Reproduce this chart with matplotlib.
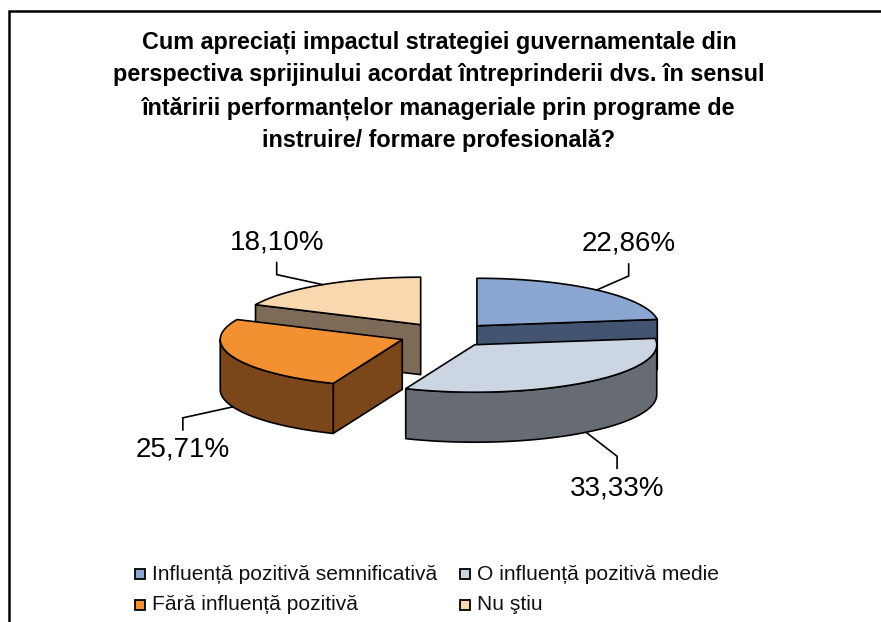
import numpy as np
import matplotlib
matplotlib.use("Agg")
import matplotlib.pyplot as plt
from matplotlib.patches import Polygon, Rectangle

plt.rcParams['font.family'] = ['Liberation Sans', 'DejaVu Sans']

# ---- data ----
title_lines = [
    "Cum apreciați impactul strategiei guvernamentale din",
    "perspectiva sprijinului acordat întreprinderii dvs. în sensul",
    "întăririi performanțelor manageriale prin programe de",
    "instruire/ formare profesională?",
]
categories = [
    "Influență pozitivă semnificativă",
    "O influență pozitivă medie",
    "Fără influență pozitivă",
    "Nu ştiu",
]
values = [22.86, 33.33, 25.71, 18.10]
value_labels = ["22,86%", "33,33%", "25,71%", "18,10%"]

# ---- style ----
top_colors = ["#8AA6D1", "#CCD6E3", "#F39132", "#F9D7AF"]
side_colors = ["#435470", "#676B74", "#7A461A", "#7E6B57"]

W, H = 881, 622
fig = plt.figure(figsize=(W / 100, H / 100), dpi=100)
ax = fig.add_axes([0, 0, 1, 1])
ax.set_xlim(0, W)
ax.set_ylim(H, 0)
ax.axis('off')

# pie geometry (pixel units)
CX, CY = 446.0, 335.0
RX, RY = 182.0, 47.5
DEPTH = 50.0
EXPLODE = 47.0
EDGE = dict(edgecolor='black', linewidth=1.2, joinstyle='round')

# label offsets from the leader anchor (dx, dy)
label_offsets = [(32, -46), (31, 56), (-50, 43), (-46, -42)]


def pt(cx, cy, t, dz=0.0):
    r = np.radians(t)
    return cx + RX * np.sin(r), cy - RY * np.cos(r) + dz


fractions = np.array(values) / np.sum(values)
bounds = np.concatenate([[0], np.cumsum(fractions) * 360.0])

slices = []
for i in range(len(values)):
    t0, t1 = bounds[i], bounds[i + 1]
    mid = 0.5 * (t0 + t1)
    rm = np.radians(mid)
    cx = CX + EXPLODE * np.sin(rm)
    cy = CY - EXPLODE * (RY / RX) * np.cos(rm)
    slices.append((i, t0, t1, mid, cx, cy))

# paint from back to front
order = sorted(slices, key=lambda s: -np.cos(np.radians(s[3])))
for i, t0, t1, mid, cx, cy in order:
    # radial faces
    if 180 < t0 % 360 < 360:
        x, y = pt(cx, cy, t0)
        ax.add_patch(Polygon([(cx, cy), (x, y), (x, y + DEPTH), (cx, cy + DEPTH)],
                             closed=True, facecolor=side_colors[i], **EDGE))
    if 0 < t1 % 360 < 180:
        x, y = pt(cx, cy, t1)
        ax.add_patch(Polygon([(cx, cy), (x, y), (x, y + DEPTH), (cx, cy + DEPTH)],
                             closed=True, facecolor=side_colors[i], **EDGE))
    # outer curved wall
    a, b = max(t0, 90.0), min(t1, 270.0)
    if b > a:
        ts = np.linspace(a, b, 80)
        upper = [pt(cx, cy, t) for t in ts]
        lower = [pt(cx, cy, t, DEPTH) for t in ts[::-1]]
        ax.add_patch(Polygon(upper + lower, closed=True,
                             facecolor=side_colors[i], **EDGE))
    # top face
    ts = np.linspace(t0, t1, 120)
    ax.add_patch(Polygon([(cx, cy)] + [pt(cx, cy, t) for t in ts], closed=True,
                         facecolor=top_colors[i], **EDGE))

# value labels with leader lines
for i, t0, t1, mid, cx, cy in slices:
    front = np.cos(np.radians(mid)) < 0
    ax_, ay_ = pt(cx, cy, mid, DEPTH if front else 0.0)
    dx, dy = label_offsets[i]
    lx, ly = ax_ + dx, ay_ + dy
    sgn = 1 if dy < 0 else -1
    y_edge = ly + sgn * 20
    y_elbow = ly + sgn * 32
    ax.plot([ax_, lx, lx], [ay_, y_elbow, y_edge], color='black', lw=1.2,
            solid_joinstyle='miter')
    ax.text(lx, ly, value_labels[i], fontsize=20, ha='center', va='center',
            color='black')

# title
title_baselines = [49, 81.5, 114, 146.5]
for line, yb in zip(title_lines, title_baselines):
    ax.text(439, yb, line, fontsize=16.85, fontweight='bold', ha='center',
            va='baseline', color='black')

# legend
leg_cols_x = [135, 460]
leg_rows_y = [574, 605]
leg_pos = [(0, 0), (1, 0), (0, 1), (1, 1)]
for i, name in enumerate(categories):
    c, r = leg_pos[i]
    x0, yc = leg_cols_x[c], leg_rows_y[r]
    ax.add_patch(Rectangle((x0, yc - 5), 10, 10, facecolor=top_colors[i],
                           edgecolor='black', linewidth=1.3))
    ax.text(x0 + 17, yc, name, fontsize=15.1, ha='left', va='center',
            color='#111111')

# chart frame
ax.plot([8.5, 8.5, W + 5], [H + 5, 10.5, 10.5], color='black', lw=1.8,
        solid_joinstyle='miter', clip_on=False)

fig.savefig("out.png", dpi=100, facecolor='white')
